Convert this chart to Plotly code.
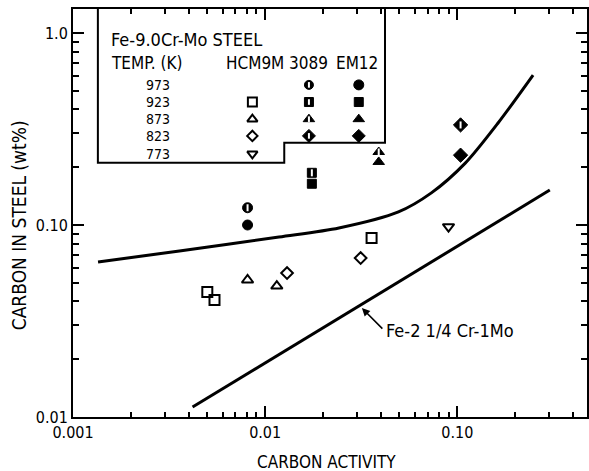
import plotly.graph_objects as go

# Carbon activity vs. carbon content, Fe-9.0Cr-Mo steels
temps = ["973", "923", "873", "823", "773"]
alloys = ["HCM9M", "3089", "EM12"]

# HCM9M (open symbols)
hcm_923_a = [0.0050, 0.00545, 0.0358]
hcm_923_c = [0.0448, 0.0407, 0.0856]
hcm_873_a = [0.0081, 0.0115]
hcm_873_c = [0.0517, 0.0481]
hcm_823_a = [0.0130, 0.0314]
hcm_823_c = [0.0562, 0.0673]
hcm_773_a = [0.090]
hcm_773_c = [0.098]

# 3089 (half-filled symbols), temperatures 973, 923, 873, 823
h3089_a = [0.0081, 0.0175, 0.039, 0.104]
h3089_c = [0.123, 0.187, 0.240, 0.332]

# EM12 (filled symbols), temperatures 973, 923, 873, 823
em12_a = [0.0081, 0.0175, 0.039, 0.104]
em12_c = [0.100, 0.164, 0.213, 0.231]

# Upper curve
curve_a = [0.00135, 0.00358, 0.0118, 0.0242, 0.0494, 0.0733, 0.110, 0.163, 0.248]
curve_c = [0.0642, 0.0732, 0.0866, 0.0965, 0.117, 0.147, 0.210, 0.340, 0.604]

# Fe-2 1/4 Cr-1Mo line
low_a = [0.00419, 0.303]
low_c = [0.01127, 0.152]

x_ticks = [0.001, 0.01, 0.1]
x_labels = ["0.001", "0.01", "0.10"]
y_ticks = [0.01, 0.1, 1.0]
y_labels = ["0.01", "0.10", "1.0"]

FONT = "DejaVu Sans Condensed, Liberation Sans Narrow, sans-serif"
BLACK = "black"

syms = ["circle", "square", "triangle-up", "diamond"]
filled_sizes = [10, 9, 10, 11]

fig = go.Figure()

fig.add_trace(go.Scatter(x=curve_a, y=curve_c, mode="lines",
                         line=dict(color=BLACK, width=3, shape="spline", smoothing=0.8),
                         hoverinfo="skip"))
fig.add_trace(go.Scatter(x=low_a, y=low_c, mode="lines",
                         line=dict(color=BLACK, width=3), hoverinfo="skip"))

for a, c, s, sz in [(hcm_923_a, hcm_923_c, "square-open", 10),
                    (hcm_873_a, hcm_873_c, "triangle-up-open", 10),
                    (hcm_823_a, hcm_823_c, "diamond-open", 9),
                    (hcm_773_a, hcm_773_c, "triangle-down-open", 10)]:
    fig.add_trace(go.Scatter(x=a, y=c, mode="markers",
                             marker=dict(symbol=s, size=sz, opacity=1, color=BLACK,
                                         line=dict(color=BLACK, width=2))))

# 3089: filled marker with a white slit
fig.add_trace(go.Scatter(x=h3089_a, y=h3089_c, mode="markers",
                         marker=dict(symbol=syms, size=filled_sizes, opacity=1, color=BLACK,
                                     line=dict(color=BLACK, width=1))))
fig.add_trace(go.Scatter(x=h3089_a, y=h3089_c, mode="markers",
                         marker=dict(symbol="line-ns", size=5, opacity=1,
                                     line=dict(color="white", width=2))))
# EM12: filled markers
fig.add_trace(go.Scatter(x=em12_a, y=em12_c, mode="markers",
                         marker=dict(symbol=syms, size=filled_sizes, opacity=1, color=BLACK,
                                     line=dict(color=BLACK, width=1))))

# Key box (stepped outline hanging from the top axis)
x_l, x_step, x_r = 0.0484, 0.411, 0.607
y_lo, y_step = 0.623, 0.672
fig.add_shape(type="path", xref="paper", yref="paper",
              path=f"M {x_l},1 L {x_l},{y_lo} L {x_step},{y_lo} L {x_step},{y_step} "
                   f"L {x_r},{y_step} L {x_r},1",
              line=dict(color=BLACK, width=2))

# Key rows and columns (paper coordinates)
row_y = [0.814, 0.772, 0.730, 0.689, 0.645]
col_x = [0.349, 0.459, 0.556]
head_x = [0.355, 0.459, 0.553]

key_open = ["square-open", "triangle-up-open", "diamond-open", "triangle-down-open"]
fig.add_trace(go.Scatter(x=[col_x[0]] * 4, y=row_y[1:], mode="markers", xaxis="x2", yaxis="y2",
                         hoverinfo="skip",
                         marker=dict(symbol=key_open, size=[9, 9, 8, 9], opacity=1, color=BLACK,
                                     line=dict(color=BLACK, width=2))))
fig.add_trace(go.Scatter(x=[col_x[1]] * 4, y=row_y[:4], mode="markers", xaxis="x2", yaxis="y2",
                         hoverinfo="skip",
                         marker=dict(symbol=syms, size=[9, 9, 10, 10], opacity=1, color=BLACK,
                                     line=dict(color=BLACK, width=1))))
fig.add_trace(go.Scatter(x=[col_x[1]] * 4, y=row_y[:4], mode="markers", xaxis="x2", yaxis="y2",
                         hoverinfo="skip",
                         marker=dict(symbol="line-ns", size=4, opacity=1,
                                     line=dict(color="white", width=2))))
fig.add_trace(go.Scatter(x=[col_x[2]] * 4, y=row_y[:4], mode="markers", xaxis="x2", yaxis="y2",
                         hoverinfo="skip",
                         marker=dict(symbol=syms, size=[10, 9, 10, 10], opacity=1, color=BLACK,
                                     line=dict(color=BLACK, width=1))))

ann = []
tfont = dict(family=FONT, size=17, color=BLACK)
ann.append(dict(x=0.070, y=0.926, xref="paper", yref="paper", xanchor="left", yanchor="middle",
                text="Fe-9.0Cr-Mo STEEL", showarrow=False,
                font=dict(family=FONT, size=18, color=BLACK)))
ann.append(dict(x=0.070, y=0.868, xref="paper", yref="paper", xanchor="left", yanchor="middle",
                text="TEMP. (K)", showarrow=False, font=tfont))
for hx, name in zip(head_x, alloys):
    ann.append(dict(x=hx, y=0.868, xref="paper", yref="paper", xanchor="center", yanchor="middle",
                    text=name, showarrow=False, font=tfont))
for ry, t in zip(row_y, temps):
    ann.append(dict(x=0.193, y=ry, xref="paper", yref="paper", xanchor="right", yanchor="middle",
                    text=t, showarrow=False, font=dict(family=FONT, size=14, color=BLACK)))

# Label and pointer for the Fe-2 1/4 Cr-1Mo line
ann.append(dict(x=0.562, y=0.267, xref="paper", yref="paper", text="", showarrow=True,
                ax=22, ay=22, arrowhead=2, arrowsize=1, arrowwidth=1.6, arrowcolor=BLACK))
ann.append(dict(x=0.606, y=0.213, xref="paper", yref="paper", xanchor="left", yanchor="middle",
                text="Fe-2 1/4 Cr-1Mo", showarrow=False,
                font=dict(family=FONT, size=18, color=BLACK)))

# Axis titles
ann.append(dict(x=0.494, y=-0.110, xref="paper", yref="paper", xanchor="center", yanchor="middle",
                text="CARBON ACTIVITY", showarrow=False, font=dict(family=FONT, size=17, color=BLACK)))
ann.append(dict(x=-0.105, y=0.47, xref="paper", yref="paper", xanchor="center", yanchor="middle",
                text="CARBON IN STEEL (wt%)", textangle=-90, showarrow=False,
                font=dict(family=FONT, size=19, color=BLACK)))

x_minor = [m * 10 ** e for e in (-3, -2, -1) for m in range(2, 10)]
y_minor = [m * 10 ** e for e in (-2, -1, 0) for m in range(2, 10)]

axis_common = dict(type="log", showgrid=False, zeroline=False, showline=True, linecolor=BLACK,
                   linewidth=2, mirror="ticks", ticks="inside", ticklen=11, tickwidth=1.5,
                   tickcolor=BLACK, tickfont=dict(family=FONT, size=16, color=BLACK),
                   tickmode="array")

fig.update_layout(
    width=589, height=471,
    margin=dict(l=73, r=0, t=9, b=54),
    paper_bgcolor="white", plot_bgcolor="white",
    showlegend=False,
    xaxis=dict(**axis_common, range=[-3, -0.325], tickvals=x_ticks, ticktext=x_labels,
               minor=dict(tickmode="array", tickvals=x_minor, ticks="inside", ticklen=5,
                          tickwidth=1.5, tickcolor=BLACK, showgrid=False)),
    yaxis=dict(**axis_common, range=[-2, 0.125], tickvals=y_ticks, ticktext=y_labels,
               minor=dict(tickmode="array", tickvals=y_minor, ticks="inside", ticklen=6,
                          tickwidth=1.5, tickcolor=BLACK, showgrid=False)),
    xaxis2=dict(overlaying="x", range=[0, 1], visible=False, anchor="y2"),
    yaxis2=dict(overlaying="y", range=[0, 1], visible=False, anchor="x2"),
    annotations=ann,
)

fig.write_html("out.html")
